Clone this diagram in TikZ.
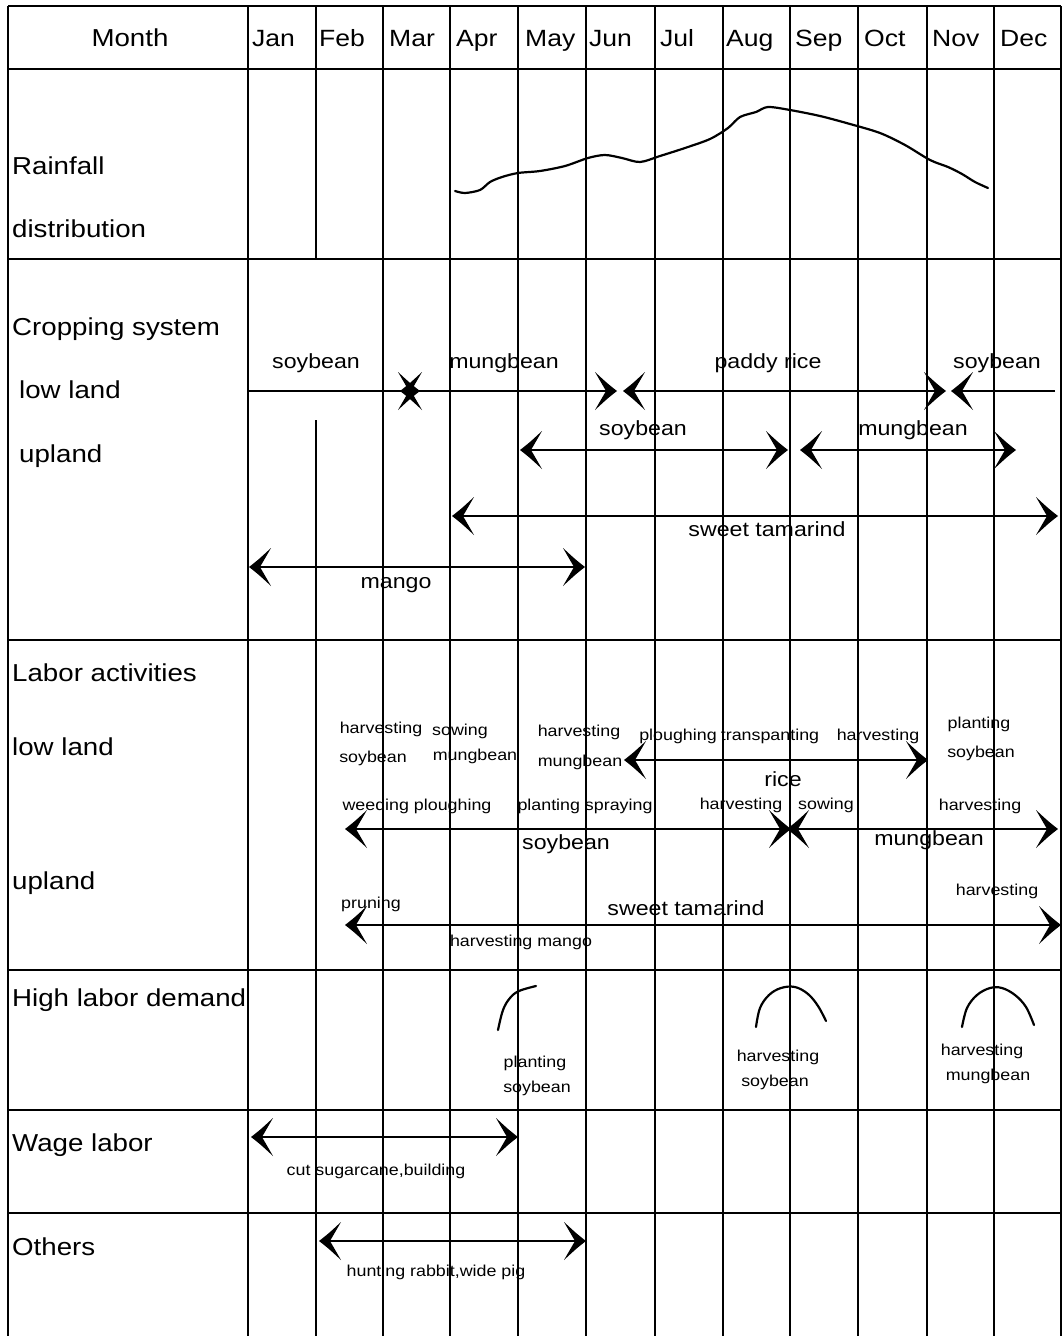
\documentclass[tikz,border=0pt]{standalone}
\usepackage{fontspec}
\setmainfont{Liberation Sans}[FakeStretch=1.13]
\tikzset{
  gridline/.style={line width=1.3pt, black},
  border/.style={line width=2pt, black},
  conn/.style={line width=2.7pt},
  connB/.style={conn, shorten <=6pt, shorten >=6pt},
  connE/.style={conn, shorten >=6pt},
  headR/.pic={\fill[black] (0,0) .. controls (-9,-7) .. (-22,-19) -- (-11,0) -- (-22,19) .. controls (-9,7) .. (0,0) -- cycle;},
  headL/.pic={\fill[black] (0,0) .. controls (9,-7) .. (22,-19) -- (11,0) -- (22,19) .. controls (9,7) .. (0,0) -- cycle;},
  curve/.style={line width=2.2pt, line join=round, line cap=round},
  lbl/.style={inner sep=0pt, text height=0.72em, text depth=0.21em, yshift=-5pt},
  big/.style={lbl, font=\fontsize{24.5}{28}\selectfont},
  mon/.style={lbl, font=\fontsize{23.5}{27}\selectfont, anchor=west},
  med/.style={lbl, font=\fontsize{20.5}{24}\selectfont},
  sml/.style={lbl, font=\fontsize{15.8}{19}\selectfont},
  rowlab/.style={big, anchor=west},
}
\begin{document}
\begin{tikzpicture}[x=1pt,y=-1pt]
\useasboundingbox (0,0) rectangle (1063,1336);
\fill[white] (0,0) rectangle (1063,1336);
% ---------- grid ----------
\draw[border] (8,6) -- (8,1336);
\draw[gridline] (8,6) -- (1061,6);
\foreach \y in {69,259,640,970,1110,1213}
  \draw[gridline] (8,\y) -- (1061,\y);
\foreach \x in {248,383,450,518,586,655,723,790,858,927,994,1061}
  \draw[gridline] (\x,6) -- (\x,1336);
\draw[gridline] (316,6) -- (316,259);
\draw[gridline] (316,420) -- (316,1336);
% ---------- header ----------
\node[big] (hMonth) at (130,39) {Month};
\node[mon] (hJan) at (252,39) {Jan};
\node[mon] (hFeb) at (319,39) {Feb};
\node[mon] (hMar) at (389,39) {Mar};
\node[mon] (hApr) at (456,39) {Apr};
\node[mon] (hMay) at (525,39) {May};
\node[mon] (hJun) at (589,39) {Jun};
\node[mon] (hJul) at (660,39) {Jul};
\node[mon] (hAug) at (726,39) {Aug};
\node[mon] (hSep) at (795,39) {Sep};
\node[mon] (hOct) at (864,39) {Oct};
\node[mon] (hNov) at (932,39) {Nov};
\node[mon] (hDec) at (1000,39) {Dec};
% ---------- row labels ----------
\node[rowlab] (rRain) at (12,167) {Rainfall};
\node[rowlab] (rDist) at (12,230) {distribution};
\node[rowlab] (rCrop) at (12,328) {Cropping system};
\node[rowlab] (rCLow) at (19,391) {low land};
\node[rowlab] (rCUp) at (19,455) {upland};
\node[rowlab] (rLab) at (12,674) {Labor activities};
\node[rowlab] (rLLow) at (12,748) {low land};
\node[rowlab] (rLUp) at (12,882) {upland};
\node[rowlab] (rHigh) at (12,999) {High labor demand};
\node[rowlab] (rWage) at (12,1144) {Wage labor};
\node[rowlab] (rOth) at (12,1248) {Others};
% ---------- rainfall ----------
\draw[curve] plot[smooth, tension=0.5] coordinates {
 (455,191) (465,193) (480,190) (490,182) (502,177) (518,173) (540,171)
 (565,166) (588,158) (605,155) (622,158) (640,162) (660,156) (685,148)
 (710,139) (728,128) (740,117) (756,112) (768,107) (790,110) (820,116)
 (850,124) (880,133) (905,145) (930,160) (948,167) (962,174) (975,182) (988,188)};
% ---------- cropping system: low land ----------
\coordinate (c1a) at (248,391); \coordinate (c1b) at (420,391);
\coordinate (c2a) at (400,391); \coordinate (c2b) at (617,391);
\coordinate (c3a) at (623,391); \coordinate (c3b) at (946,391);
\coordinate (c4a) at (951,391); \coordinate (c4b) at (1055,391);
\draw[connE] (c1a) -- (c1b); \pic at (c1b) {headR};
\draw[connB] (c2a) -- (c2b); \pic at (c2a) {headL}; \pic at (c2b) {headR};
\draw[connB] (c3a) -- (c3b); \pic at (c3a) {headL}; \pic at (c3b) {headR};
\draw[connE] (c4b) -- (c4a); \pic at (c4a) {headL};
\node[med] (tSoy1) at (316,361) {soybean};
\node[med] (tMung1) at (504,361) {mungbean};
\node[med] (tPaddy) at (768,361) {paddy rice};
\node[med] (tSoy2) at (997,361) {soybean};
% ---------- cropping system: upland ----------
\coordinate (u1a) at (520,450); \coordinate (u1b) at (788,450);
\coordinate (u2a) at (800,450); \coordinate (u2b) at (1016,450);
\coordinate (u3a) at (452,516); \coordinate (u3b) at (1058,516);
\coordinate (u4a) at (249,567); \coordinate (u4b) at (585,567);
\draw[connB] (u1a) -- (u1b); \pic at (u1a) {headL}; \pic at (u1b) {headR};
\draw[connB] (u2a) -- (u2b); \pic at (u2a) {headL}; \pic at (u2b) {headR};
\draw[connB] (u3a) -- (u3b); \pic at (u3a) {headL}; \pic at (u3b) {headR};
\draw[connB] (u4a) -- (u4b); \pic at (u4a) {headL}; \pic at (u4b) {headR};
\node[med] (tUSoy) at (643,428) {soybean};
\node[med] (tUMung) at (913,428) {mungbean};
\node[med] (tUTam) at (767,529) {sweet tamarind};
\node[med] (tUMango) at (396,581) {mango};
% ---------- labor activities: low land ----------
\node[sml] (l1) at (381,726) {harvesting};
\node[sml] (l2) at (373,755) {soybean};
\node[sml] (l3) at (460,728) {sowing};
\node[sml] (l4) at (475,753) {mungbean};
\node[sml] (l5) at (579,729) {harvesting};
\node[sml] (l6) at (580,759) {mungbean};
\node[sml] (l7) at (678,733) {ploughing};
\node[sml] (l8) at (770,733) {transpanting};
\node[sml] (l9) at (878,733) {harvesting};
\node[sml] (l10) at (979,721) {planting};
\node[sml] (l11) at (981,750) {soybean};
\coordinate (r1a) at (624,760); \coordinate (r1b) at (928,760);
\draw[connB] (r1a) -- (r1b); \pic at (r1a) {headL}; \pic at (r1b) {headR};
\node[med] (lRice) at (783,779) {rice};
% ---------- labor activities: upland ----------
\node[sml] (m1) at (417,803) {weeding ploughing};
\node[sml] (m2) at (585,803) {planting spraying};
\node[sml] (m3) at (741,802) {harvesting};
\node[sml] (m4) at (826,802) {sowing};
\node[sml] (m5) at (980,803) {harvesting};
\coordinate (s1a) at (345,829); \coordinate (s1b) at (791,829);
\coordinate (s2a) at (787,829); \coordinate (s2b) at (1058,829);
\draw[connB] (s1a) -- (s1b); \pic at (s1a) {headL}; \pic at (s1b) {headR};
\draw[connB] (s2a) -- (s2b); \pic at (s2a) {headL}; \pic at (s2b) {headR};
\node[med] (mSoy) at (566,842) {soybean};
\node[med] (mMung) at (929,838) {mungbean};
\node[sml] (m6) at (371,901) {pruning};
\node[sml] (m7) at (997,888) {harvesting};
\coordinate (t1a) at (345,925); \coordinate (t1b) at (1061,925);
\draw[connB] (t1a) -- (t1b); \pic at (t1a) {headL}; \pic at (t1b) {headR};
\node[med] (mTam) at (686,908) {sweet tamarind};
\node[sml] (m8) at (521,939) {harvesting mango};
% ---------- high labor demand ----------
\draw[curve] plot[smooth, tension=0.6] coordinates {(498,1030) (503,1010) (510,998) (519,991) (536,986)};
\draw[curve] plot[smooth, tension=0.6] coordinates {(756,1027) (760,1008) (769,995) (781,988) (795,987) (808,994) (818,1006) (826,1021)};
\draw[curve] plot[smooth, tension=0.6] coordinates {(962,1027) (967,1008) (977,995) (990,988) (1002,988) (1015,995) (1026,1007) (1034,1025)};
\node[sml] (h1) at (535,1060) {planting};
\node[sml] (h2) at (537,1085) {soybean};
\node[sml] (h3) at (778,1054) {harvesting};
\node[sml] (h4) at (775,1079) {soybean};
\node[sml] (h5) at (982,1048) {harvesting};
\node[sml] (h6) at (988,1073) {mungbean};
% ---------- wage labor ----------
\coordinate (w1a) at (251,1137); \coordinate (w1b) at (518,1137);
\draw[connB] (w1a) -- (w1b); \pic at (w1a) {headL}; \pic at (w1b) {headR};
\node[sml] (wTxt) at (376,1168) {cut sugarcane,building};
% ---------- others ----------
\coordinate (o1a) at (319,1241); \coordinate (o1b) at (586,1241);
\draw[connB] (o1a) -- (o1b); \pic at (o1a) {headL}; \pic at (o1b) {headR};
\node[sml] (oTxt) at (436,1269) {hunting rabbit,wide pig};
\end{tikzpicture}
\end{document}
